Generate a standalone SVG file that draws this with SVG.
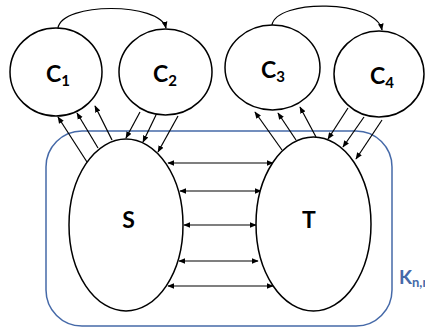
<svg xmlns="http://www.w3.org/2000/svg" width="425" height="329" viewBox="0 0 425 329">
<defs>
<style>
.node{fill:#fff;stroke:#000;stroke-width:1.5}
.lbl{font-family:Lato,"Liberation Sans",sans-serif;font-weight:bold;font-size:23px;fill:#000}
.sub{font-size:15px}
.edge{fill:none;stroke:#000;stroke-width:1.2}
.box{fill:none;stroke:#4569a8;stroke-width:1.5}
</style>
<marker id="ah" viewBox="0 0 10 10" refX="9" refY="5" markerWidth="7" markerHeight="7" orient="auto-start-reverse" markerUnits="userSpaceOnUse">
<path d="M0,1 L10,5 L0,9 z" fill="#000"/>
</marker>
</defs>
<rect class="box" x="46" y="131" width="346" height="195" rx="36" ry="36"/>
<text x="399" y="284" font-family="Lato,'Liberation Sans',sans-serif" font-weight="bold" font-size="19" fill="#4569a8">K<tspan font-size="13" dy="3">n,n</tspan></text>
<g id="connectors">
<path class="edge" marker-end="url(#ah)" d="M58,28 C62,2 160,2 166,28"/>
<path class="edge" marker-end="url(#ah)" d="M272,25 C276,-1 376,-1 382,30"/>
<line class="edge" marker-end="url(#ah)" x1="87" y1="162" x2="58" y2="117"/>
<line class="edge" marker-end="url(#ah)" x1="98" y1="148" x2="77" y2="113"/>
<line class="edge" marker-end="url(#ah)" x1="112" y1="140" x2="95" y2="106"/>
<line class="edge" marker-end="url(#ah)" x1="140" y1="112" x2="126" y2="138"/>
<line class="edge" marker-end="url(#ah)" x1="156" y1="115" x2="143" y2="142"/>
<line class="edge" marker-end="url(#ah)" x1="178" y1="116" x2="158" y2="152"/>
<line class="edge" marker-end="url(#ah)" x1="282" y1="150" x2="255" y2="112"/>
<line class="edge" marker-end="url(#ah)" x1="296" y1="140" x2="278" y2="113"/>
<line class="edge" marker-end="url(#ah)" x1="316" y1="137" x2="300" y2="107"/>
<line class="edge" marker-end="url(#ah)" x1="348" y1="108" x2="328" y2="139"/>
<line class="edge" marker-end="url(#ah)" x1="364" y1="117" x2="343" y2="147"/>
<line class="edge" marker-end="url(#ah)" x1="382" y1="120" x2="356" y2="159"/>
<line class="edge" marker-start="url(#ah)" marker-end="url(#ah)" x1="168" y1="163" x2="273" y2="163"/>
<line class="edge" marker-start="url(#ah)" marker-end="url(#ah)" x1="180" y1="191" x2="261" y2="191"/>
<line class="edge" marker-start="url(#ah)" marker-end="url(#ah)" x1="184" y1="225" x2="256" y2="225"/>
<line class="edge" marker-start="url(#ah)" marker-end="url(#ah)" x1="179" y1="261" x2="258" y2="261"/>
<line class="edge" marker-start="url(#ah)" marker-end="url(#ah)" x1="168" y1="286" x2="273" y2="286"/>
</g>
<g id="C1"><ellipse class="node" cx="56" cy="72" rx="46" ry="44"/><text class="lbl" x="46" y="82">C<tspan class="sub" dy="4">1</tspan></text></g>
<g id="C2"><ellipse class="node" cx="165.5" cy="72" rx="46.5" ry="43"/><text class="lbl" x="153" y="82">C<tspan class="sub" dy="4">2</tspan></text></g>
<g id="C3"><ellipse class="node" cx="272.5" cy="67.5" rx="47.5" ry="42.5"/><text class="lbl" x="261" y="78">C<tspan class="sub" dy="4">3</tspan></text></g>
<g id="C4"><ellipse class="node" cx="379" cy="74" rx="45" ry="43"/><text class="lbl" x="370" y="84">C<tspan class="sub" dy="4">4</tspan></text></g>
<g id="S"><ellipse class="node" cx="126" cy="225" rx="57" ry="86"/><text class="lbl" x="128.5" y="228" text-anchor="middle" font-size="20">S</text></g>
<g id="T"><ellipse class="node" cx="313.5" cy="224" rx="57.5" ry="87"/><text class="lbl" x="309" y="228" text-anchor="middle" font-size="20">T</text></g>
</svg>
